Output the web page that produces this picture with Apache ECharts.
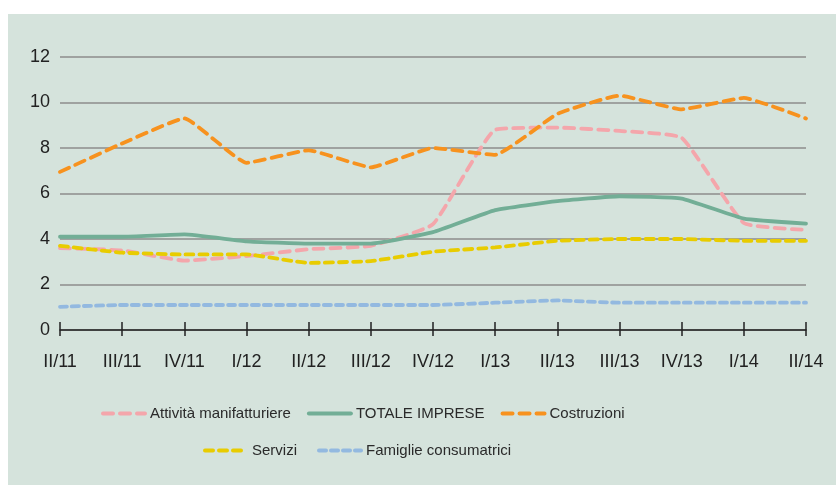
<!DOCTYPE html>
<html>
<head>
<meta charset="utf-8">
<script src="https://cdn.jsdelivr.net/npm/echarts@6/dist/echarts.min.js"></script>
<style>
  html, body { margin: 0; padding: 0; background: #fff; }
  #wrap { position: relative; width: 836px; height: 485px; background: #fff; }
  #chart { position: absolute; left: 8px; top: 14px; width: 828px; height: 471px; }
</style>
</head>
<body>
<div id="wrap"><div id="chart"></div></div>
<script>
  // trimestri
  var categories = ['II/11', 'III/11', 'IV/11', 'I/12', 'II/12', 'III/12', 'IV/12', 'I/13', 'II/13', 'III/13', 'IV/13', 'I/14', 'II/14']

  var manifatturiere = [3.6, 3.5, 3.05, 3.25, 3.55, 3.7, 4.65, 8.8, 8.9, 8.75, 8.45, 4.7, 4.4]
  var totaleImprese = [4.1, 4.1, 4.2, 3.9, 3.8, 3.8, 4.3, 5.27, 5.66, 5.88, 5.78, 4.9, 4.68]
  var costruzioni = [6.95, 8.2, 9.3, 7.35, 7.9, 7.15, 8.0, 7.7, 9.5, 10.3, 9.7, 10.2, 9.3]
  var servizi = [3.7, 3.4, 3.32, 3.32, 2.95, 3.03, 3.44, 3.63, 3.92, 4.0, 4.0, 3.92, 3.92]
  var famiglie = [1.02, 1.1, 1.1, 1.1, 1.1, 1.1, 1.1, 1.2, 1.3, 1.2, 1.2, 1.2, 1.2]

  var yTicks = { min: 0, max: 12, interval: 2 }

  var font = '"Liberation Sans", Arial, sans-serif'

  function serie (name, data, color, dash, width) {
    return {
      name: name,
      type: 'line',
      data: data,
      smooth: 0.12,
      symbol: 'none',
      lineStyle: {
        color: color,
        width: width || 3.8,
        type: dash || 'solid',
        cap: 'round'
      },
      itemStyle: { color: color },
      animation: false
    }
  }

  var legendBase = {
    itemWidth: 42,
    itemHeight: 14,
    itemStyle: { opacity: 0 },
    lineStyle: { width: 4 },
    textStyle: { color: '#2a2a2a', fontSize: 15, fontFamily: font }
  }

  var chart = echarts.init(document.getElementById('chart'))
  chart.setOption({
    backgroundColor: '#d5e3dc',
    textStyle: { fontFamily: font },
    grid: { left: 52, right: 30, top: 43, bottom: 155 },
    xAxis: [{
      type: 'category',
      data: categories,
      boundaryGap: false,
      axisLine: { lineStyle: { color: '#222', width: 1.5 } },
      axisTick: { show: true, length: 6, lineStyle: { color: '#222', width: 1.5 } },
      axisLabel: { color: '#222', fontSize: 18, margin: 23, fontFamily: font }
    }, {
      // tacche sopra l'asse
      type: 'category',
      data: categories,
      position: 'bottom',
      boundaryGap: false,
      axisLine: { show: false },
      axisTick: { show: true, inside: true, length: 8, lineStyle: { color: '#222', width: 1.5 } },
      axisLabel: { show: false }
    }],
    yAxis: {
      type: 'value',
      min: yTicks.min,
      max: yTicks.max,
      interval: yTicks.interval,
      axisLine: { show: false },
      axisTick: { show: false },
      axisLabel: { color: '#222', fontSize: 18, margin: 10, fontFamily: font },
      splitLine: { lineStyle: { color: '#8c8c8c', width: 1.5 } }
    },
    legend: [
      Object.assign({}, legendBase, {
        data: ['Attività manifatturiere', 'TOTALE IMPRESE', 'Costruzioni'],
        left: 88,
        top: 387,
        itemGap: 16
      }),
      Object.assign({}, legendBase, {
        data: ['Servizi', 'Famiglie consumatrici'],
        left: 190,
        top: 424,
        itemGap: 20
      })
    ],
    series: [
      serie('Attività manifatturiere', manifatturiere, '#f4a6ab', [10, 7]),
      serie('TOTALE IMPRESE', totaleImprese, '#72ae96', 'solid', 3.8),
      serie('Costruzioni', costruzioni, '#f7921e', [10, 7]),
      serie('Servizi', servizi, '#e8cc00', [8, 6]),
      serie('Famiglie consumatrici', famiglie, '#93b9e0', [7, 5])
    ]
  })
</script>
</body>
</html>
